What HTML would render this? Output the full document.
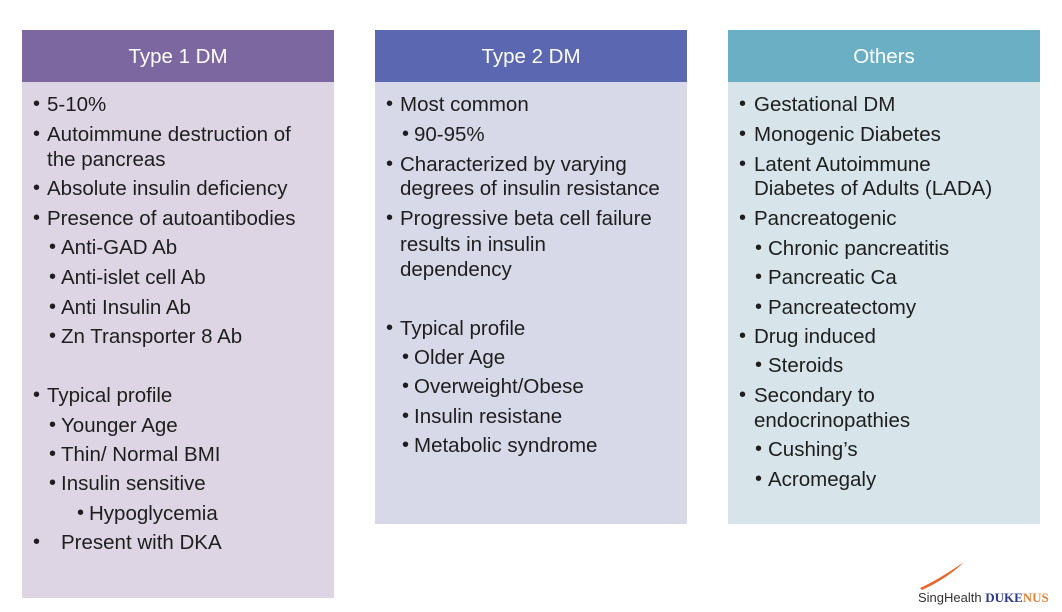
<!DOCTYPE html>
<html><head><meta charset="utf-8"><style>
body{margin:0;width:1062px;height:612px;background:#fff;position:relative;overflow:hidden;font-family:"Liberation Sans",sans-serif;}
.box{position:absolute;}
.hd{position:absolute;height:52px;line-height:54px;text-align:center;color:#fff;font-size:20.5px;}
.t{position:absolute;font-size:20.5px;line-height:24px;color:#1e1e1e;white-space:nowrap;}
.b{position:absolute;font-size:20px;line-height:24px;color:#1e1e1e;}
</style></head><body>
<div class="box" style="left:22px;top:82px;width:312px;height:516px;background:#ddd5e3"></div>
<div class="hd" style="left:22px;top:30px;width:312px;background:#7d67a0">Type 1 DM</div>
<div class="box" style="left:375px;top:82px;width:312px;height:442px;background:#d7d8e8"></div>
<div class="hd" style="left:375px;top:30px;width:312px;background:#5b67b0">Type 2 DM</div>
<div class="box" style="left:728px;top:82px;width:312px;height:442px;background:#d7e5ea"></div>
<div class="hd" style="left:728px;top:30px;width:312px;background:#6aafc4">Others</div>
<div id="c"></div>
<div style="position:absolute;left:918px;top:590px;font-size:13px;color:#333">SingHealth <span style="color:#2b3a8c;font-family:'Liberation Serif',serif;font-weight:bold">DUKE<span style="color:#e8833a">NUS</span></span></div>
<svg style="position:absolute;left:918px;top:560px" width="50" height="30"><path d="M2 28 Q20 20 46 2 Q30 18 4 30Z" fill="#e8662e"/></svg>
<script>
const items=[
[36,47,105,"5-10%"],[36,47,135,"Autoimmune destruction of"],[null,47,160,"the pancreas"],[36,47,189,"Absolute insulin deficiency"],[36,47,219,"Presence of autoantibodies"],
[52,61,248,"Anti-GAD Ab"],[52,61,278,"Anti-islet cell Ab"],[52,61,308,"Anti Insulin Ab"],[52,61,337,"Zn Transporter 8 Ab"],
[36,47,396,"Typical profile"],[52,61,426,"Younger Age"],[52,61,455,"Thin/ Normal BMI"],[52,61,484,"Insulin sensitive"],[80,89,514,"Hypoglycemia"],[36,61,543,"Present with DKA"],
[389,400,105,"Most common"],[405,414,135,"90-95%"],[389,400,165,"Characterized by varying"],[null,400,189,"degrees of insulin resistance"],[389,400,219,"Progressive beta cell failure"],[null,400,245,"results in insulin"],[null,400,270,"dependency"],
[389,400,329,"Typical profile"],[405,414,358,"Older Age"],[405,414,387,"Overweight/Obese"],[405,414,417,"Insulin resistane"],[405,414,446,"Metabolic syndrome"],
[742,754,105,"Gestational DM"],[742,754,135,"Monogenic Diabetes"],[742,754,165,"Latent Autoimmune"],[null,754,189,"Diabetes of Adults (LADA)"],[742,754,219,"Pancreatogenic"],
[758,768,249,"Chronic pancreatitis"],[758,768,278,"Pancreatic Ca"],[758,768,308,"Pancreatectomy"],[742,754,337,"Drug induced"],[758,768,366,"Steroids"],
[742,754,396,"Secondary to"],[null,754,421,"endocrinopathies"],[758,768,450,"Cushing’s"],[758,768,480,"Acromegaly"]];
const c=document.getElementById('c');
items.forEach(([bx,tx,y,s])=>{
 if(bx!==null){const b=document.createElement('div');b.className='b';b.textContent='•';b.style.left=(bx-3)+'px';b.style.top=(y-13)+'px';
 
 
 c.appendChild(b);}
 const t=document.createElement('div');t.className='t';t.textContent=s;t.style.left=tx+'px';t.style.top=(y-12)+'px';
 
 
 c.appendChild(t);
});
</script>
</body></html>
